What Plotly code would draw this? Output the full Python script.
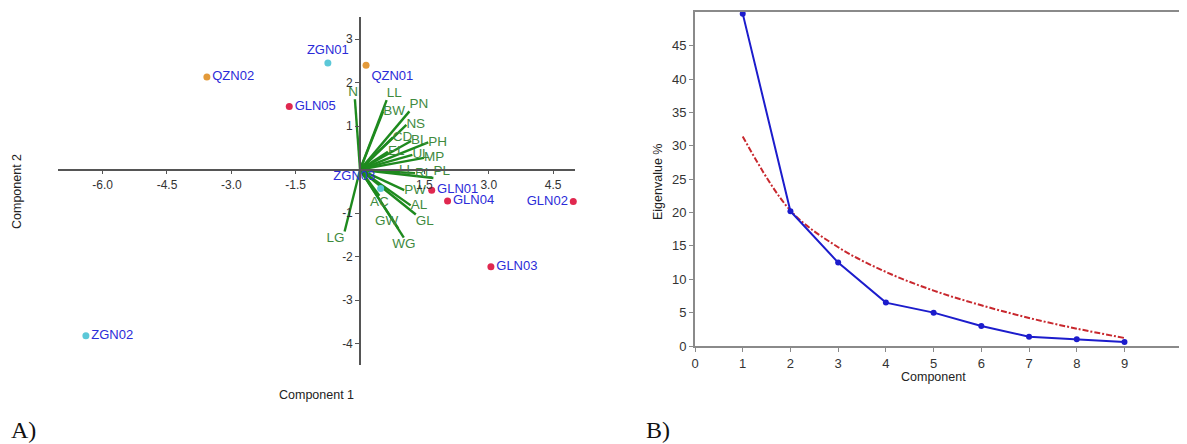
import plotly.graph_objects as go

# ---------------- Panel A: PCA biplot data ----------------
sample_names = ["ZGN01", "QZN01", "QZN02", "GLN05", "ZGN02", "ZGN03",
                "GLN01", "GLN04", "GLN02", "GLN03"]
sample_groups = ["ZGN", "QZN", "QZN", "GLN", "ZGN", "ZGN",
                 "GLN", "GLN", "GLN", "GLN"]
score_pc1 = [-0.75, 0.14, -3.57, -1.65, -6.39, 0.48, 1.67, 2.04, 4.97, 3.05]
score_pc2 = [2.45, 2.40, 2.13, 1.45, -3.82, -0.43, -0.47, -0.72, -0.73, -2.23]

trait_names = ["NI", "LL", "BW", "PN", "NS", "CD", "BL", "PH", "EL", "UL", "MP",
               "LL", "RL", "PL", "PW", "AC", "AL", "GL", "GW", "WG", "LG"]
loading_pc1 = [-0.12, 0.62, 0.54, 1.15, 1.08, 0.76, 1.19, 1.59, 0.65, 1.22, 1.49,
               0.91, 1.28, 1.71, 1.03, 0.45, 1.18, 1.30, 0.89, 1.02, -0.36]
loading_pc2 = [1.62, 1.60, 1.34, 1.34, 1.03, 0.74, 0.66, 0.63, 0.41, 0.34, 0.27,
               -0.03, -0.08, -0.19, -0.47, -0.60, -0.82, -1.03, -1.35, -1.56, -1.42]

pc1_ticks = [-6.0, -4.5, -3.0, -1.5, 1.5, 3.0, 4.5]
pc1_ticklabels = ["-6.0", "-4.5", "-3.0", "-1.5", "1.5", "3.0", "4.5"]
pc2_ticks = [-4, -3, -2, -1, 1, 2, 3]
pc2_ticklabels = ["-4", "-3", "-2", "-1", "1", "2", "3"]

# ---------------- Panel B: scree plot data ----------------
components = [1, 2, 3, 4, 5, 6, 7, 8, 9]
eigen_pct = [49.8, 20.2, 12.5, 6.5, 5.0, 3.0, 1.4, 1.0, 0.6]
broken_stick = [31.4, 20.3, 14.8, 11.1, 8.3, 6.1, 4.2, 2.6, 1.2]
comp_ticks = [0, 1, 2, 3, 4, 5, 6, 7, 8, 9]
eig_ticks = [0, 5, 10, 15, 20, 25, 30, 35, 40, 45]

# ---------------- styles ----------------
OFF = 8  # default page body margin
WIN_W, WIN_H = 1187, 444
W, H = WIN_W - OFF, WIN_H - OFF
FONT = "Liberation Sans, Arial, sans-serif"
group_colors = {"GLN": "#e0284f", "QZN": "#e39a3a", "ZGN": "#5cc8d8"}
sample_label_pos = ["top center", "bottom right", "middle right", "middle right",
                    "middle right", "top left", "middle right", "middle right",
                    "middle left", "middle right"]
trait_label_pos = ["top center", "top right", "middle right", "top right", "middle right",
                   "middle right", "middle right", "middle right", "middle right",
                   "middle right", "middle right", "middle right", "middle right",
                   "top right", "middle right", "bottom center", "middle right",
                   "bottom right", "top left", "bottom center", "bottom left"]


def fx(p):
    return (p - OFF) / W


def fy(p):
    return 1 - (p - OFF) / H


fig = go.Figure()

# vectors
vx, vy = [], []
for a, b in zip(loading_pc1, loading_pc2):
    vx += [0, a, None]
    vy += [0, b, None]
fig.add_trace(go.Scatter(x=vx, y=vy, mode="lines",
                         line=dict(color="#1e8a1e", width=2.4),
                         xaxis="x", yaxis="y", hoverinfo="skip"))
fig.add_trace(go.Scatter(x=loading_pc1, y=loading_pc2, mode="text", text=trait_names,
                         textposition=trait_label_pos,
                         textfont=dict(family=FONT, size=13.5, color="#3f8a3f"),
                         xaxis="x", yaxis="y", cliponaxis=False))

# sample points
fig.add_trace(go.Scatter(x=score_pc1, y=score_pc2, mode="markers+text", text=sample_names,
                         textposition=sample_label_pos,
                         marker=dict(size=7, color=[group_colors[g] for g in sample_groups]),
                         textfont=dict(family=FONT, size=13, color="#2b2bd8"),
                         xaxis="x", yaxis="y", cliponaxis=False))

# scree
fig.add_trace(go.Scatter(x=components, y=broken_stick, mode="lines",
                         line=dict(color="#c8282e", width=2, dash="6px,2px,2px,2px",
                                   shape="spline"),
                         xaxis="x2", yaxis="y2", cliponaxis=False))
fig.add_trace(go.Scatter(x=components, y=eigen_pct, mode="lines+markers",
                         line=dict(color="#1c1ccc", width=2),
                         marker=dict(size=6, color="#1c1ccc"),
                         xaxis="x2", yaxis="y2", cliponaxis=False))

axis_font = dict(family=FONT, size=12, color="#333333")
common = dict(showgrid=False, zeroline=False, showline=True, ticks="outside",
              ticklen=4, automargin=False)
title_font = dict(family=FONT, size=12.5, color="#222222")
serif_font = dict(family="Liberation Serif, Times New Roman, serif", size=24,
                  color="#111111")


def note(text, px, py, font, angle=0, xanchor="center"):
    return dict(text=text, x=fx(px), y=fy(py), xref="paper", yref="paper",
                xanchor=xanchor, yanchor="middle", textangle=angle,
                showarrow=False, font=font)


fig.update_layout(
    width=W, height=H,
    margin=dict(l=0, r=0, t=0, b=0),
    paper_bgcolor="white", plot_bgcolor="white",
    showlegend=False,
    xaxis=dict(domain=[fx(58), fx(575)], range=[-7.04, 5.01], anchor="free",
               position=fy(169.5), tickvals=pc1_ticks, ticktext=pc1_ticklabels,
               linecolor="#555555", linewidth=1.6, tickcolor="#555555",
               tickfont=axis_font, **common),
    yaxis=dict(domain=[fy(365), fy(17)], range=[-4.49, 3.51], anchor="free",
               position=fx(360), tickvals=pc2_ticks, ticktext=pc2_ticklabels,
               linecolor="#555555", linewidth=1.6, tickcolor="#555555",
               tickfont=axis_font, **common),
    xaxis2=dict(domain=[fx(695), 1.0], range=[0, 10.31], anchor="y2",
                tickvals=comp_ticks, mirror=True,
                linecolor="#8a8a8a", linewidth=2, tickcolor="#8a8a8a",
                tickfont=dict(family=FONT, size=13, color="#333333"), **common),
    yaxis2=dict(domain=[fy(346), fy(12.3)], range=[0, 50], anchor="x2",
                tickvals=eig_ticks,
                linecolor="#8a8a8a", linewidth=2, tickcolor="#8a8a8a",
                tickfont=dict(family=FONT, size=13, color="#333333"), **common),
    annotations=[
        note("Component 1", 316, 395, title_font),
        note("Component 2", 17, 192, title_font, angle=-90),
        note("Eigenvalue %", 658, 182, title_font, angle=-90),
        note("Component", 933, 377, title_font),
        note("A)", 9, 430, serif_font, xanchor="left"),
        note("B)", 644, 430, serif_font, xanchor="left"),
    ],
)

fig.write_html("out.html")
